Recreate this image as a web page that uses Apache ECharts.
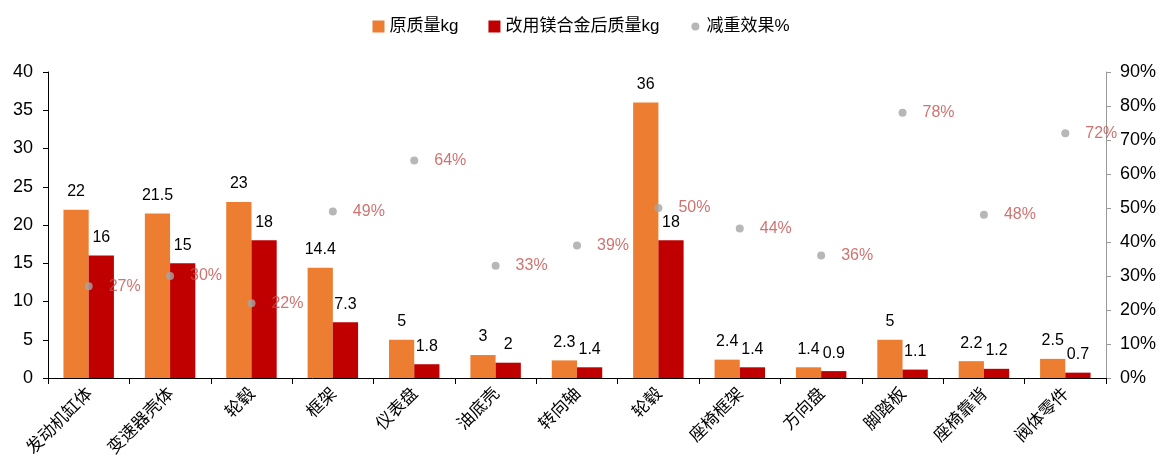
<!DOCTYPE html>
<html><head><meta charset="utf-8">
<script src="https://cdn.jsdelivr.net/npm/echarts@6/dist/echarts.min.js"></script>
<style>html,body{margin:0;padding:0;background:#fff}#c{width:1162px;height:466px}</style>
</head><body><div id="c"></div>
<script>
const categories = ['发动机缸体','变速器壳体','轮毂','框架','仪表盘','油底壳','转向轴','轮毂','座椅框架','方向盘','脚踏板','座椅靠背','阀体零件'];
const originalWeight = [22, 21.5, 23, 14.4, 5, 3, 2.3, 36, 2.4, 1.4, 5, 2.2, 2.5];
const mgWeight = [16, 15, 18, 7.3, 1.8, 2, 1.4, 18, 1.4, 0.9, 1.1, 1.2, 0.7];
const reduction = [27, 30, 22, 49, 64, 33, 39, 50, 44, 36, 78, 48, 72];
const seriesNames = ['原质量kg','改用镁合金后质量kg','减重效果%'];

const chart = echarts.init(document.getElementById('c'));
const font = 'Arial, "Liberation Sans", "Noto Sans CJK SC"';
const smallDot = 'image://data:image/svg+xml;charset=utf-8,' + encodeURIComponent(
  '<svg xmlns="http://www.w3.org/2000/svg" width="12" height="12" viewBox="0 0 12 12"><circle cx="6" cy="6" r="4" fill="#A5A5A5"/></svg>');
chart.setOption({
  animation: false,
  textStyle: {fontFamily: font},
  legend: {
    top: 13, left: 'center', itemWidth: 12, itemHeight: 12, itemGap: 30,
    textStyle: {fontSize: 17, color: '#000', fontFamily: font},
    data: [
      {name: seriesNames[0], icon: 'rect'},
      {name: seriesNames[1], icon: 'rect'},
      {name: seriesNames[2], icon: smallDot}
    ]
  },
  grid: {left: 48, right: 56, top: 72, bottom: 88, containLabel: false},
  xAxis: {
    type: 'category', data: categories,
    axisLine: {lineStyle: {color: '#000'}},
    axisTick: {show: true, alignWithLabel: false, lineStyle: {color: '#000'}, length: 6},
    axisLabel: {rotate: 45, fontSize: 17, color: '#000', interval: 0, margin: 12, fontFamily: '"Noto Sans CJK SC"'}
  },
  yAxis: [
    {type: 'value', min: 0, max: 40, interval: 5,
     axisLine: {show: true, lineStyle: {color: '#000'}},
     axisTick: {show: true, inside: false, length: 5, lineStyle: {color: '#000'}},
     splitLine: {show: false},
     axisLabel: {fontSize: 18, color: '#000', margin: 15}},
    {type: 'value', min: 0, max: 90, interval: 10, position: 'right',
     axisLine: {show: true, lineStyle: {color: '#999'}},
     axisTick: {show: true, length: 5, lineStyle: {color: '#999'}},
     splitLine: {show: false},
     axisLabel: {fontSize: 18, color: '#000', margin: 14, formatter: '{value}%'}}
  ],
  series: [
    {name: seriesNames[0], type: 'bar', data: originalWeight, barWidth: '31%', barGap: '0%',
     itemStyle: {color: '#ED7D31'},
     label: {show: true, position: 'top', distance: 10, fontSize: 16, color: '#000'}},
    {name: seriesNames[1], type: 'bar', data: mgWeight, barWidth: '31%', barGap: '0%',
     itemStyle: {color: '#C00000'},
     label: {show: true, position: 'top', distance: 10, fontSize: 16, color: '#000'}},
    {name: seriesNames[2], type: 'scatter', yAxisIndex: 1, data: reduction, symbolSize: 8,
     itemStyle: {color: '#A5A5A5'},
     label: {show: true, position: 'right', distance: 16, fontSize: 16, color: '#C0504D', formatter: '{c}%'}}
  ]
});
</script></body></html>
